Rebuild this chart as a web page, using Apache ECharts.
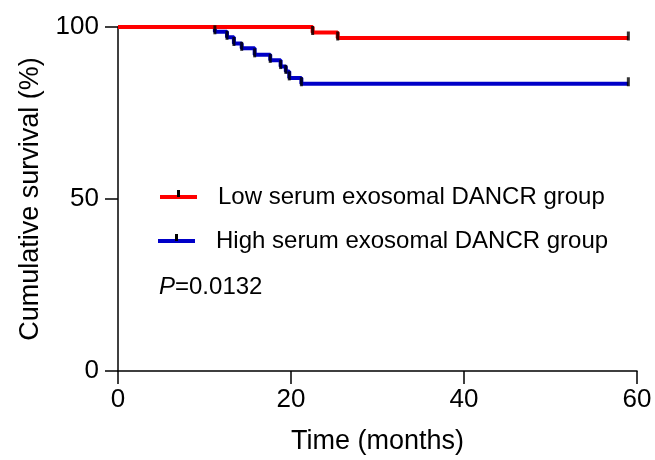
<!DOCTYPE html>
<html>
<head>
<meta charset="utf-8">
<script src="https://cdn.jsdelivr.net/npm/echarts@6/dist/echarts.min.js"></script>
<style>
  html, body { margin: 0; padding: 0; background: #fff; }
  #chart { width: 655px; height: 460px; }
</style>
</head>
<body>
<div id="chart"></div>
<script>
// Kaplan-Meier curves: [time in months, cumulative survival %]
var lowGroup = [[0, 100], [22.5, 98.4], [25.4, 96.8], [59, 96.8]];
var highGroup = [[0, 100], [11.2, 98.6], [12.6, 97.0], [13.4, 95.2], [14.3, 93.8],
                 [15.8, 91.9], [17.6, 90.3], [18.8, 88.5], [19.4, 87.1], [19.8, 85.2],
                 [21.2, 83.5], [59, 83.5]];
var seriesNames = ['Low serum exosomal DANCR group', 'High serum exosomal DANCR group'];
var pText = '0.0132';
var xTicks = [0, 20, 40, 60];
var yTicks = [0, 50, 100];

var FONT = '"Liberation Sans", Arial, sans-serif';

// tick marks drawn at every step and at the end of follow-up
function ticksOf(arr) {
    return arr.slice(1);
}

var chart = echarts.init(document.getElementById('chart'));
chart.setOption({
    animation: false,
    backgroundColor: '#fff',
    grid: { left: 118, right: 18, top: 27, bottom: 87 },
    xAxis: {
        type: 'value',
        min: xTicks[0],
        max: xTicks[xTicks.length - 1],
        interval: 20,
        name: 'Time (months)',
        nameLocation: 'middle',
        nameGap: 57,
        nameTextStyle: { fontFamily: FONT, fontSize: 27, color: '#000' },
        axisLine: { show: true, lineStyle: { color: '#000', width: 1.5 } },
        axisTick: { show: true, inside: false, length: 13, lineStyle: { color: '#000', width: 1.5 } },
        axisLabel: { fontFamily: FONT, fontSize: 26, color: '#000', margin: 16 },
        splitLine: { show: false }
    },
    yAxis: {
        type: 'value',
        min: yTicks[0],
        max: yTicks[yTicks.length - 1],
        interval: 50,
        name: 'Cumulative survival (%)',
        nameLocation: 'middle',
        nameGap: 74,
        nameTextStyle: { fontFamily: FONT, fontSize: 27, color: '#000' },
        axisLine: { show: true, lineStyle: { color: '#000', width: 1.5 } },
        axisTick: { show: true, inside: false, length: 13, lineStyle: { color: '#000', width: 1.5 } },
        axisLabel: { fontFamily: FONT, fontSize: 26, color: '#000', margin: 19 },
        splitLine: { show: false }
    },
    series: [
        {
            name: seriesNames[1],
            type: 'line',
            step: 'end',
            data: highGroup,
            showSymbol: false,
            lineStyle: { color: '#0000c8', width: 4 },
            z: 2
        },
        {
            name: seriesNames[0],
            type: 'line',
            step: 'end',
            data: lowGroup,
            showSymbol: false,
            lineStyle: { color: '#ff0000', width: 4 },
            z: 3
        },
        {
            type: 'scatter',
            data: ticksOf(highGroup),
            symbol: 'rect',
            symbolSize: [3, 9],
            symbolOffset: [0, -2],
            itemStyle: { color: '#000' },
            z: 4
        },
        {
            type: 'scatter',
            data: ticksOf(lowGroup),
            symbol: 'rect',
            symbolSize: [3, 9],
            symbolOffset: [0, -2],
            itemStyle: { color: '#000' },
            z: 4
        }
    ],
    graphic: [
        // legend: low group
        { type: 'line', shape: { x1: 160, y1: 197, x2: 197, y2: 197 }, style: { stroke: '#ff0000', lineWidth: 4 } },
        { type: 'rect', shape: { x: 177, y: 190, width: 3, height: 7 }, style: { fill: '#000' } },
        { type: 'text', x: 218, y: 197, style: { text: seriesNames[0], font: '24px ' + FONT, fill: '#000', verticalAlign: 'middle' } },
        // legend: high group
        { type: 'line', shape: { x1: 158, y1: 241, x2: 195, y2: 241 }, style: { stroke: '#0000c8', lineWidth: 4 } },
        { type: 'rect', shape: { x: 175, y: 234, width: 3, height: 7 }, style: { fill: '#000' } },
        { type: 'text', x: 216, y: 241, style: { text: seriesNames[1], font: '24px ' + FONT, fill: '#000', verticalAlign: 'middle' } },
        // p value
        { type: 'text', x: 159, y: 287, style: { text: 'P', font: 'italic 24px ' + FONT, fill: '#000', verticalAlign: 'middle' } },
        { type: 'text', x: 175, y: 287, style: { text: '=' + pText, font: '24px ' + FONT, fill: '#000', verticalAlign: 'middle' } }
    ]
});
window.addEventListener('resize', function () {
    chart.resize();
});
</script>
</body>
</html>
